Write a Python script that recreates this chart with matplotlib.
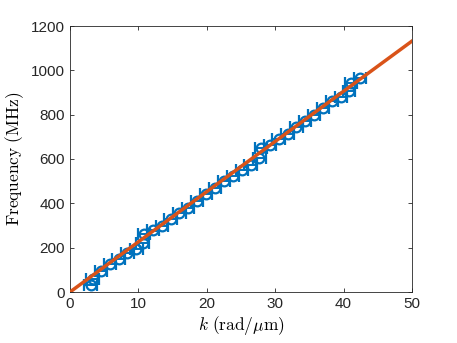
import matplotlib
matplotlib.use("Agg")
import matplotlib.pyplot as plt
import numpy as np

plt.rcParams['mathtext.fontset'] = 'cm'
plt.rcParams['font.family'] = ['Liberation Sans', 'DejaVu Sans']

k_data = [3.0, 3.3, 4.5, 5.8, 7.1, 8.4, 9.7, 10.6, 10.8, 12.1, 13.4, 14.7, 16.0, 17.3,
          18.6, 19.9, 21.2, 22.5, 23.8, 25.1, 26.4, 27.7, 27.9, 29.2, 30.5, 31.8, 33.1,
          34.4, 35.7, 37.0, 38.3, 39.6, 40.8, 41.1, 42.4]
f_data = [30, 60, 95, 125, 150, 175, 195, 220, 262, 280, 300, 330, 355, 380,
          410, 440, 470, 500, 525, 550, 575, 605, 650, 665, 690, 715, 745,
          770, 800, 830, 860, 880, 905, 945, 965]
k_err = 0.9

fit_k = [0, 50]
fit_f = [0, 1132]

fig = plt.figure(figsize=(4.57, 3.43), dpi=100)
ax = fig.add_axes([70/457, 51/343, 342/457, 266/343])

ax.errorbar(k_data, f_data, xerr=k_err, fmt='o', color='#0072BD', mfc='none',
            ms=7, mew=1.6, elinewidth=1.4, capsize=4, capthick=1.4, zorder=2)
ax.plot(fit_k, fit_f, color='#D95319', lw=2.5, zorder=3)

ax.set_xlim(0, 50)
ax.set_ylim(0, 1200)
ax.set_xticks([0, 10, 20, 30, 40, 50])
ax.set_yticks(np.arange(0, 1201, 200))
ax.tick_params(direction='in', top=True, right=True, length=3, labelsize=11,
               color='#262626', labelcolor='#262626', width=0.6)
for s in ax.spines.values():
    s.set_color('#262626')
    s.set_linewidth(0.6)

ax.set_xlabel(r'$k\ \mathrm{(rad/}\mu\mathrm{m)}$', fontsize=12.5, labelpad=2)
ax.set_ylabel(r'$\mathrm{Frequency\ (MHz)}$', fontsize=12.5, labelpad=4)

fig.savefig('out.png', dpi=100)
